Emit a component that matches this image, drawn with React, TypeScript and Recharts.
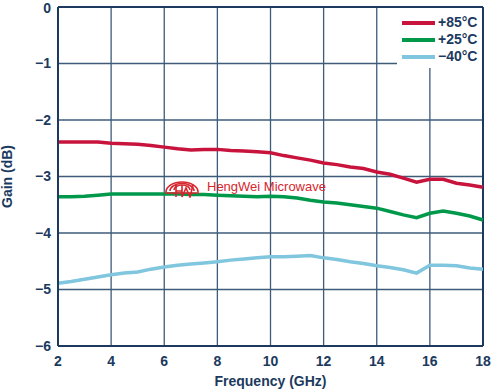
import React from "react";
import {
  LineChart,
  Line,
  XAxis,
  YAxis,
  CartesianGrid,
  ReferenceLine,
} from "recharts";

const freqGHz = [
  2, 2.5, 3, 3.5, 4, 4.5, 5, 5.5, 6, 6.5, 7, 7.5, 8, 8.5, 9, 9.5, 10, 10.5, 11,
  11.5, 12, 12.5, 13, 13.5, 14, 14.5, 15, 15.5, 16, 16.5, 17, 17.5, 18,
];

const gain85 = [
  -2.39, -2.39, -2.39, -2.39, -2.41, -2.42, -2.43, -2.45, -2.48, -2.51, -2.53,
  -2.52, -2.52, -2.54, -2.55, -2.56, -2.58, -2.63, -2.67, -2.71, -2.76, -2.79,
  -2.83, -2.86, -2.92, -2.96, -3.03, -3.1, -3.05, -3.05, -3.12, -3.15, -3.19,
];

const gain25 = [
  -3.36, -3.36, -3.35, -3.33, -3.31, -3.31, -3.31, -3.31, -3.31, -3.31, -3.32,
  -3.32, -3.33, -3.34, -3.35, -3.36, -3.35, -3.36, -3.38, -3.42, -3.45, -3.47,
  -3.5, -3.53, -3.56, -3.62, -3.68, -3.73, -3.65, -3.61, -3.65, -3.7, -3.77,
];

const gainM40 = [
  -4.89, -4.86, -4.82, -4.78, -4.74, -4.71, -4.69, -4.64, -4.6, -4.57, -4.55,
  -4.53, -4.51, -4.48, -4.46, -4.44, -4.42, -4.42, -4.41, -4.4, -4.44, -4.47,
  -4.51, -4.54, -4.58, -4.61, -4.65, -4.71, -4.57, -4.57, -4.58, -4.62, -4.64,
];

const xTicks = [2, 4, 6, 8, 10, 12, 14, 16, 18];
const yTicks = [-6, -5, -4, -3, -2, -1, 0];

const seriesNames = ["+85°C", "+25°C", "−40°C"];
const seriesKeys = ["t85", "t25", "tm40"];
const seriesColors = ["#c8143c", "#00984a", "#7fc6de"];

const data = freqGHz.map((f, i) => ({
  f,
  t85: gain85[i],
  t25: gain25[i],
  tm40: gainM40[i],
}));

const NAVY = "#1b3a5e";
const GRID = "#3e5b7a";
const FONT = "'Liberation Sans', Arial, Helvetica, sans-serif";

const fmtY = (v: number) => (v === 0 ? "0" : "−" + Math.abs(v));

const LegendBox = () => (
  <div
    style={{
      position: "absolute",
      left: 397,
      top: 8,
      background: "#fff",
      width: 85,
      height: 60,
      fontFamily: FONT,
      fontWeight: 700,
      fontSize: 14,
      color: NAVY,
    }}
  >
    {seriesNames.map((n, i) => (
      <div
        key={n}
        style={{
          position: "absolute",
          left: 5,
          top: 6 + i * 17,
          height: 17,
          display: "flex",
          alignItems: "center",
          whiteSpace: "nowrap",
        }}
      >
        <div
          style={{
            width: 33,
            height: 4,
            background: seriesColors[i],
            marginRight: 3,
          }}
        />
        <span style={{ lineHeight: "17px" }}>{n}</span>
      </div>
    ))}
  </div>
);

const Watermark = () => (
  <div
    style={{
      position: "absolute",
      left: 162,
      top: 176,
      display: "flex",
      alignItems: "center",
      pointerEvents: "none",
    }}
  >
    <svg width={40} height={22} viewBox="0 0 40 22">
      <g fill="none" stroke="#d7262e" strokeWidth={1.6}>
        <path d="M4 16 A16 10 0 1 1 36 16" />
        <path d="M8 15 A12 7.5 0 1 1 32 15" />
        <path d="M12 14 A8 5 0 1 1 28 14" />
        <path d="M3 17 L37 17" />
        <path d="M14 9 L14 21 M14 15 L20 15 M20 9 L20 21 L24 12 L28 21 L31 9" />
      </g>
    </svg>
    <span
      style={{
        marginLeft: 5,
        fontFamily: FONT,
        fontSize: 13,
        color: "#d7262e",
        lineHeight: "16px",
      }}
    >
      HengWei Microwave
    </span>
  </div>
);

export default function App() {
  return (
    <div
      style={{
        position: "absolute",
        left: 0,
        top: 0,
        width: 493,
        height: 389,
        background: "#fff",
      }}
    >
      <LineChart
        width={493}
        height={389}
        data={data}
        margin={{ top: 7, right: 10, bottom: 0, left: 0 }}
      >
        <CartesianGrid stroke={GRID} strokeWidth={1.3} />
        <XAxis
          dataKey="f"
          type="number"
          domain={[2, 18]}
          ticks={xTicks}
          height={43}
          tickLine={false}
          tickSize={0}
          tickMargin={10}
          axisLine={{ stroke: NAVY, strokeWidth: 2 }}
          tick={{ fill: NAVY, fontSize: 14, fontWeight: 700, fontFamily: FONT }}
          label={{
            value: "Frequency (GHz)",
            position: "insideBottom",
            offset: 3,
            fill: NAVY,
            fontSize: 14,
            fontWeight: 700,
            fontFamily: FONT,
          }}
        />
        <YAxis
          type="number"
          domain={[-6, 0]}
          ticks={yTicks}
          width={58}
          tickLine={false}
          tickSize={0}
          tickMargin={7}
          tickFormatter={fmtY}
          axisLine={{ stroke: NAVY, strokeWidth: 2 }}
          tick={{ fill: NAVY, fontSize: 14, fontWeight: 700, fontFamily: FONT }}
          label={{
            content: (props: any) => {
              const vb = props.viewBox || { x: 0, y: 7, height: 339 };
              const cx = 12;
              const cy = vb.y + vb.height / 2;
              return (
                <text
                  x={cx}
                  y={cy}
                  transform={`rotate(-90 ${cx} ${cy})`}
                  textAnchor="middle"
                  fill={NAVY}
                  fontSize={14}
                  fontWeight={700}
                  fontFamily={FONT}
                >
                  Gain (dB)
                </text>
              );
            },
          }}
        />
        <ReferenceLine y={0} stroke={NAVY} strokeWidth={2} />
        <ReferenceLine x={18} stroke={NAVY} strokeWidth={2} />
        {seriesKeys.map((k, i) => (
          <Line
            key={k}
            dataKey={k}
            name={seriesNames[i]}
            stroke={seriesColors[i]}
            strokeWidth={3.5}
            dot={false}
            type="linear"
            isAnimationActive={false}
          />
        ))}
      </LineChart>
      <LegendBox />
      <Watermark />
    </div>
  );
}
